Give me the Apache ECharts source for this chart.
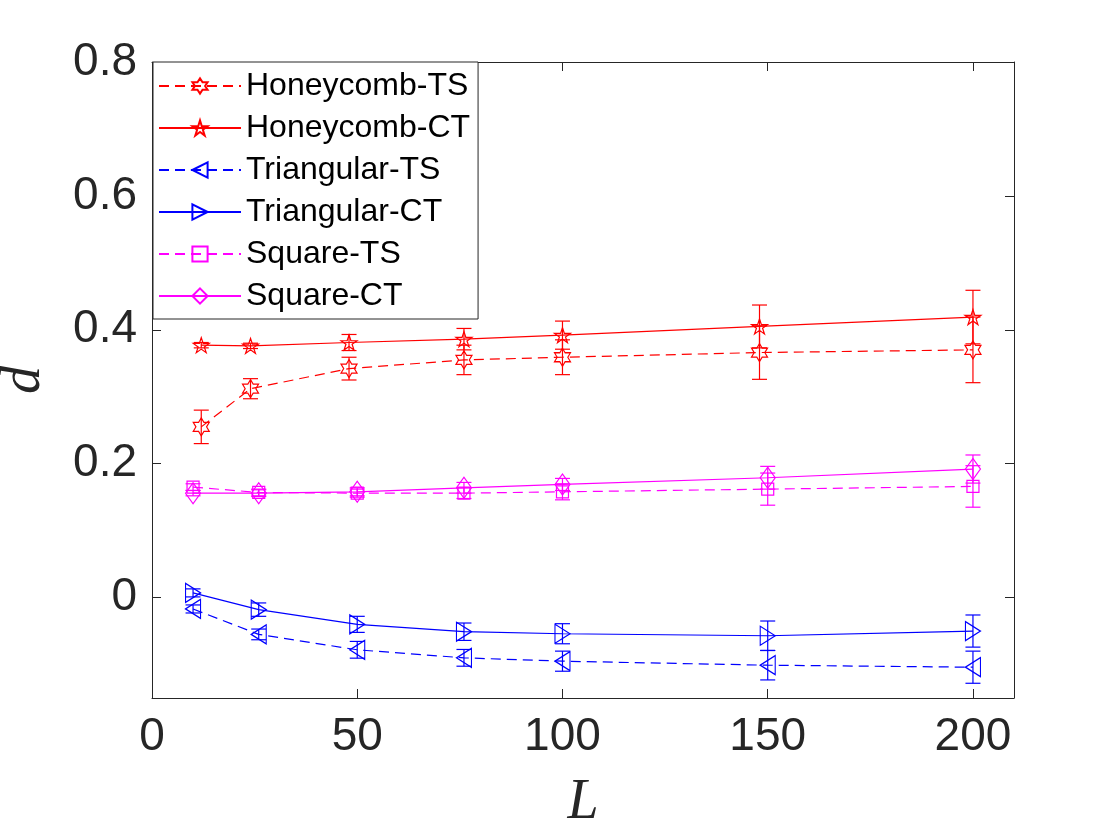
<!DOCTYPE html>
<html>
<head>
    <meta charset="utf-8" />
    <title>d vs L</title>
    <script src="https://cdn.jsdelivr.net/npm/echarts@6.0.0/dist/echarts.min.js"></script>
    <style>
        html, body { margin: 0; padding: 0; background: #fff; }
        #main { width: 1120px; height: 840px; }
    </style>
</head>
<body>
<div id="main"></div>
<script type="text/javascript">
    // lattice sizes
    var hcL = [12, 24, 48, 76, 100, 148, 200];
    var trL = [10, 26, 50, 76, 100, 150, 200];
    var sqL = [10, 26, 50, 76, 100, 150, 200];

    // mean values and error half-widths
    var hcTS = [0.255, 0.312, 0.342, 0.355, 0.359, 0.366, 0.370];
    var hcTSerr = [0.025, 0.015, 0.017, 0.022, 0.026, 0.040, 0.049];
    var hcCT = [0.377, 0.376, 0.381, 0.386, 0.392, 0.405, 0.419];
    var hcCTerr = [0.004, 0.004, 0.012, 0.016, 0.021, 0.032, 0.040];

    var trTS = [-0.017, -0.055, -0.078, -0.090, -0.095, -0.101, -0.104];
    var trTSerr = [0.006, 0.008, 0.0125, 0.0125, 0.015, 0.022, 0.024];
    var trCT = [0.007, -0.018, -0.040, -0.051, -0.054, -0.057, -0.050];
    var trCTerr = [0.006, 0.010, 0.012, 0.013, 0.015, 0.022, 0.024];

    var sqTS = [0.165, 0.157, 0.156, 0.156, 0.158, 0.162, 0.166];
    var sqTSerr = [0.005, 0.005, 0.006, 0.008, 0.012, 0.024, 0.031];
    var sqCT = [0.156, 0.156, 0.158, 0.164, 0.169, 0.179, 0.192];
    var sqCTerr = [0.004, 0.005, 0.006, 0.008, 0.009, 0.017, 0.021];

    var xTicks = [0, 50, 100, 150, 200];
    var yTicks = [0, 0.2, 0.4, 0.6, 0.8];

    var RED = '#ff0000', BLUE = '#0000ff', MAG = '#ff00ff', AX = '#262626';

    function starPath(n, inner) {
        var pts = [];
        for (var i = 0; i < 2 * n; i++) {
            var r = i % 2 === 0 ? 1 : inner;
            var a = -Math.PI / 2 + i * Math.PI / n;
            pts.push((50 + 50 * r * Math.cos(a)).toFixed(2) + ',' + (50 + 50 * r * Math.sin(a)).toFixed(2));
        }
        return 'path://M' + pts.join('L') + 'Z';
    }
    var HEXA = starPath(6, 0.577);
    var PENTA = starPath(5, 0.382);
    var TRI_L = 'path://M0,50L100,0L100,100Z';
    var TRI_R = 'path://M100,50L0,0L0,100Z';

    function pairs(xs, ys) {
        return xs.map(function (x, i) { return [x, ys[i]]; });
    }
    function triples(xs, ys, es) {
        return xs.map(function (x, i) { return [x, ys[i], es[i]]; });
    }

    function lineSeries(name, xs, ys, color, dashed, symbol, size) {
        return {
            name: name,
            type: 'line',
            data: pairs(xs, ys),
            symbol: symbol,
            symbolSize: size,
            showAllSymbol: true,
            itemStyle: { color: 'none', borderColor: color, borderWidth: 1.2 },
            lineStyle: { color: color, width: 1.2, type: dashed ? [10, 6] : 'solid' },
            z: 3
        };
    }

    function errSeries(xs, ys, es, color) {
        return {
            type: 'custom',
            data: triples(xs, ys, es),
            encode: { x: 0, y: 1 },
            z: 2,
            renderItem: function (params, api) {
                var x = api.value(0), y = api.value(1), e = api.value(2);
                var hi = api.coord([x, y + e]);
                var lo = api.coord([x, y - e]);
                var hw = 7.5;
                var st = { stroke: color, lineWidth: 1.2 };
                return {
                    type: 'group',
                    children: [
                        { type: 'line', shape: { x1: hi[0], y1: hi[1], x2: lo[0], y2: lo[1] }, style: st },
                        { type: 'line', shape: { x1: hi[0] - hw, y1: hi[1], x2: hi[0] + hw, y2: hi[1] }, style: st },
                        { type: 'line', shape: { x1: lo[0] - hw, y1: lo[1], x2: lo[0] + hw, y2: lo[1] }, style: st }
                    ]
                };
            }
        };
    }

    var chart = echarts.init(document.getElementById('main'));

    var axisCommon = {
        axisLine: { show: true, onZero: false, lineStyle: { color: AX, width: 1 } },
        splitLine: { show: false }
    };

    var option = {
        animation: false,
        backgroundColor: '#fff',
        grid: { left: 152, right: 106, top: 62, bottom: 142, containLabel: false, outerBoundsMode: 'none' },
        legend: {
            data: ['Honeycomb-TS', 'Honeycomb-CT', 'Triangular-TS', 'Triangular-CT', 'Square-TS', 'Square-CT'],
            orient: 'vertical',
            left: 153,
            top: 62,
            padding: [8, 8, 7, 5],
            itemWidth: 82,
            itemHeight: 19,
            itemGap: 10,
            backgroundColor: '#fff',
            borderColor: AX,
            borderWidth: 1,
            borderRadius: 0,
            selectedMode: false,
            textStyle: { fontFamily: 'Liberation Sans, Arial, sans-serif', fontSize: 32, lineHeight: 32, color: '#000' }
        },
        xAxis: [
            Object.assign({
                type: 'value', min: 0, max: 210, position: 'bottom',
                name: 'L', nameLocation: 'middle', nameGap: 77,
                nameTextStyle: { fontFamily: 'Liberation Serif, Times New Roman, serif', fontStyle: 'italic', fontSize: 56, color: AX },
                axisTick: { show: true, inside: true, length: 9, lineStyle: { color: AX }, customValues: xTicks },
                axisLabel: { show: true, margin: 16, fontFamily: 'Liberation Sans, Arial, sans-serif', fontSize: 46, color: AX, customValues: xTicks }
            }, axisCommon),
            Object.assign({
                type: 'value', min: 0, max: 210, position: 'top',
                axisTick: { show: true, inside: true, length: 9, lineStyle: { color: AX }, customValues: xTicks },
                axisLabel: { show: false }
            }, axisCommon)
        ],
        yAxis: [
            Object.assign({
                type: 'value', min: -0.15, max: 0.8, position: 'left',
                name: 'd', nameLocation: 'middle', nameGap: 100,
                nameTextStyle: { fontFamily: 'Liberation Serif, Times New Roman, serif', fontStyle: 'italic', fontSize: 56, color: AX },
                axisTick: { show: true, inside: true, length: 9, lineStyle: { color: AX }, customValues: yTicks },
                axisLabel: { show: true, margin: 15, fontFamily: 'Liberation Sans, Arial, sans-serif', fontSize: 46, color: AX, customValues: yTicks,
                    formatter: function (v) { return v === 0 ? '0' : v.toFixed(1); } }
            }, axisCommon),
            Object.assign({
                type: 'value', min: -0.15, max: 0.8, position: 'right',
                axisTick: { show: true, inside: true, length: 9, lineStyle: { color: AX }, customValues: yTicks },
                axisLabel: { show: false }
            }, axisCommon)
        ],
        series: [
            errSeries(hcL, hcTS, hcTSerr, RED),
            errSeries(hcL, hcCT, hcCTerr, RED),
            errSeries(trL, trTS, trTSerr, BLUE),
            errSeries(trL, trCT, trCTerr, BLUE),
            errSeries(sqL, sqTS, sqTSerr, MAG),
            errSeries(sqL, sqCT, sqCTerr, MAG),
            lineSeries('Honeycomb-TS', hcL, hcTS, RED, true, HEXA, [16, 18]),
            lineSeries('Honeycomb-CT', hcL, hcCT, RED, false, PENTA, [16, 15]),
            lineSeries('Triangular-TS', trL, trTS, BLUE, true, TRI_L, [15, 19]),
            lineSeries('Triangular-CT', trL, trCT, BLUE, false, TRI_R, [15, 19]),
            lineSeries('Square-TS', sqL, sqTS, MAG, true, 'rect', [12, 12]),
            lineSeries('Square-CT', sqL, sqCT, MAG, false, 'diamond', [15, 21])
        ]
    };

    chart.setOption(option);
</script>
</body>
</html>
